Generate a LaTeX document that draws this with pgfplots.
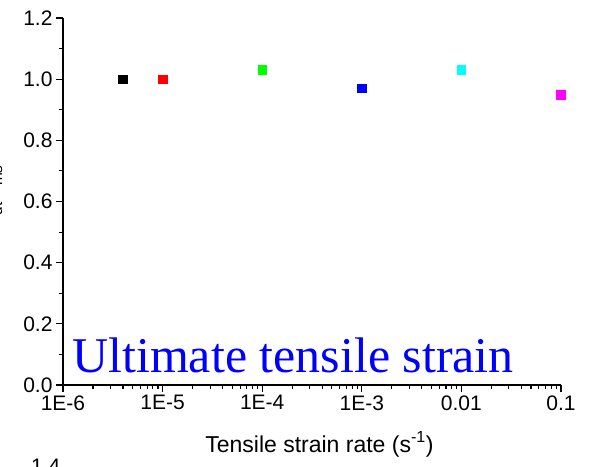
\documentclass[border=0pt]{standalone}
\usepackage{pgfplots}
\pgfplotsset{compat=1.18}
\usepackage{fontspec}
\setmainfont{Liberation Sans}
\newfontfamily\seriffont{Liberation Serif}
\definecolor{mygreen}{RGB}{0,255,0}
\definecolor{mycyan}{RGB}{0,255,255}
\definecolor{mymagenta}{RGB}{255,0,255}
\begin{document}
\begin{tikzpicture}[x=1pt,y=1pt]
\useasboundingbox (0,0) rectangle (594,466);
\begin{axis}[
  at={(63pt,81pt)}, anchor=south west,
  scale only axis, width=498pt, height=367pt,
  xmode=log, xmin=1e-6, xmax=0.1,
  ymin=0, ymax=1.2,
  axis x line=bottom, axis y line=left,
  axis line style={-, line width=1.1pt},
  xtick={1e-6,1e-5,1e-4,1e-3,1e-2,1e-1},
  xticklabels={1E-6,1E-5,1E-4,1E-3,0.01,0.1},
  minor xtick={2e-6,3e-6,4e-6,5e-6,6e-6,7e-6,8e-6,9e-6,
               2e-5,3e-5,4e-5,5e-5,6e-5,7e-5,8e-5,9e-5,
               2e-4,3e-4,4e-4,5e-4,6e-4,7e-4,8e-4,9e-4,
               2e-3,3e-3,4e-3,5e-3,6e-3,7e-3,8e-3,9e-3,
               2e-2,3e-2,4e-2,5e-2,6e-2,7e-2,8e-2,9e-2},
  ytick={0,0.2,0.4,0.6,0.8,1.0,1.2},
  minor ytick={0.1,0.3,0.5,0.7,0.9,1.1},
  yticklabel style={/pgf/number format/.cd, fixed, fixed zerofill, precision=1},
  /pgf/number format/assume math mode=true,
  tick align=outside,
  major tick length=7pt, minor tick length=4pt,
  tick style={line width=1.1pt, black},
  ticklabel style={font=\fontsize{21}{21}\selectfont},
  xlabel={Tensile strain rate (s\textsuperscript{-1})},
  xlabel style={font=\fontsize{23}{23}\selectfont, at={(axis description cs:0.515,0)}, anchor=base, yshift=-67pt},
  clip=false,
]
\addplot[only marks, mark=square*, mark size=4.3pt, black] coordinates {(4e-6,1.00)};
\addplot[only marks, mark=square*, mark size=4.3pt, red] coordinates {(1e-5,1.00)};
\addplot[only marks, mark=square*, mark size=4.3pt, mygreen] coordinates {(1e-4,1.03)};
\addplot[only marks, mark=square*, mark size=4.3pt, blue] coordinates {(1e-3,0.97)};
\addplot[only marks, mark=square*, mark size=4.3pt, mycyan] coordinates {(1e-2,1.03)};
\addplot[only marks, mark=square*, mark size=4.3pt, mymagenta] coordinates {(1e-1,0.95)};
\end{axis}
\node[anchor=base west, text=blue, font=\seriffont\fontsize{50}{50}\selectfont, inner sep=0pt] at (72,94) {Ultimate tensile strain};
\node[rotate=90, anchor=base, font=\fontsize{22}{22}\selectfont, inner sep=0pt] at (-1,271) {ε\textsubscript{ut}/ε\textsubscript{ms}};
\node[anchor=base west, font=\fontsize{21}{21}\selectfont, inner sep=0pt] at (31,-7) {1.4};
\end{tikzpicture}
\end{document}
